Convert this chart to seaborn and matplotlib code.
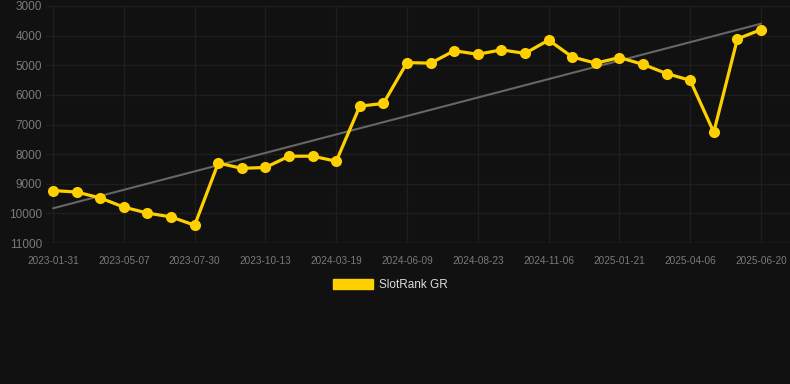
import numpy as np
import pandas as pd
import matplotlib
matplotlib.use("Agg")
import matplotlib.pyplot as plt
import seaborn as sns
from matplotlib.patches import Patch

# ---- data ----
ranks = [9230, 9280, 9480, 9790, 9990, 10120, 10400,
         8300, 8480, 8450, 8070, 8070, 8240, 6380, 6290,
         4910, 4930, 4510, 4630, 4480, 4600, 4150, 4720,
         4930, 4740, 4970, 5280, 5510, 7260, 4110, 3800]
tick_labels = ["2023-01-31", "2023-05-07", "2023-07-30", "2023-10-13",
               "2024-03-19", "2024-06-09", "2024-08-23", "2024-11-06",
               "2025-01-21", "2025-04-06", "2025-06-20"]
series_name = "SlotRank GR"
y_ticks = [3000, 4000, 5000, 6000, 7000, 8000, 9000, 10000, 11000]

df = pd.DataFrame({"idx": np.arange(len(ranks)), "rank": ranks})

BG = "#111111"
YELLOW = "#FFD000"
GRID = "#1e1e1e"
sns.set_theme(style="dark")
plt.rcParams["font.family"] = ["Liberation Sans", "DejaVu Sans"]

fig = plt.figure(figsize=(7.9, 3.84), dpi=100, facecolor=BG)
ax = fig.add_axes([46/790, 1-243/384, 1-46/790, (243-6)/384])
ax.set_facecolor(BG)

sns.regplot(data=df, x="idx", y="rank", ax=ax, scatter=False, ci=None,
            color="#666666", line_kws={"linewidth": 1.5, "zorder": 2})
sns.lineplot(data=df, x="idx", y="rank", ax=ax, color=YELLOW, linewidth=2.3,
             marker="o", markersize=8, markeredgewidth=0, zorder=3)

ax.set_ylim(11000, 3000)
ax.set_xlim(-0.3, 31.23)
ax.set_yticks(y_ticks)
ax.set_yticklabels([str(v) for v in y_ticks])
ax.set_xticks(np.arange(0, len(ranks), 3))
ax.set_xticklabels(tick_labels)
ax.grid(True, color=GRID, linewidth=1.0)
ax.axhline(11000, color="#2a2a2a", linewidth=1.0, zorder=1)
ax.set_axisbelow(True)
for s in ax.spines.values():
    s.set_visible(False)
ax.tick_params(axis="y", colors="#7a7a7a", labelsize=8.5, length=0, pad=3)
ax.tick_params(axis="x", colors=GRID, labelcolor="#7a7a7a", labelsize=7.2,
               length=6, width=1.0, pad=3)
ax.set_xlabel("")
ax.set_ylabel("")

leg = fig.legend(handles=[Patch(facecolor=YELLOW, edgecolor=YELLOW, label=series_name)],
                 loc="center", bbox_to_anchor=(390/790, 1-285/384), frameon=False,
                 fontsize=8.5, handlelength=3.4, handleheight=1.0, handletextpad=0.5,
                 labelcolor="#dddddd")

fig.savefig("out.png", dpi=100, facecolor=BG)
